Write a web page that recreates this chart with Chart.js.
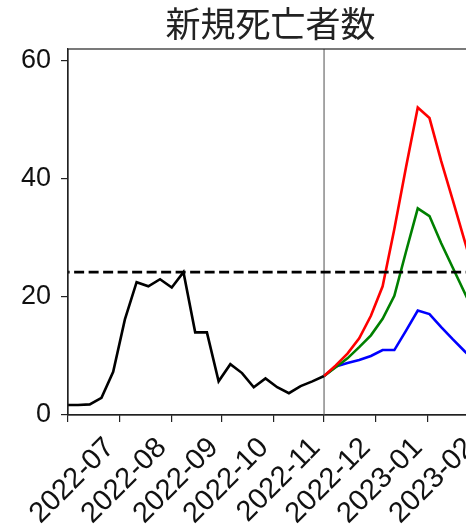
<!DOCTYPE html>
<html>
<head>
<meta charset="utf-8">
<script src="https://cdn.jsdelivr.net/npm/chart.js@4.4.0/dist/chart.umd.min.js"></script>
<style>
  html, body { margin: 0; padding: 0; background: #fff; overflow: hidden; }
  #wrap { width: 480px; height: 529px; }
</style>
</head>
<body>
<div id="wrap"><canvas id="myChart"></canvas></div>
<script>
// month ticks on the x axis
const monthTicks = ['2022-07-01', '2022-08-01', '2022-09-01', '2022-10-01', '2022-11-01', '2022-12-01', '2023-01-01', '2023-02-01'];
const monthLabels = ['2022-07', '2022-08', '2022-09', '2022-10', '2022-11', '2022-12', '2023-01', '2023-02'];

// observed weekly deaths (black)
const obsDates = ['2022-06-30', '2022-07-07', '2022-07-14', '2022-07-21', '2022-07-28', '2022-08-04', '2022-08-11', '2022-08-18',
  '2022-08-25', '2022-09-01', '2022-09-08', '2022-09-15', '2022-09-22', '2022-09-29', '2022-10-06', '2022-10-13',
  '2022-10-20', '2022-10-27', '2022-11-03', '2022-11-10', '2022-11-17', '2022-11-24', '2022-12-01'];
const obsDeaths = [1.7, 1.7, 1.8, 2.9, 7.3, 16.2, 22.5, 21.8, 23.0, 21.6, 24.2, 14.0, 14.0, 5.7, 8.6, 7.1, 4.7, 6.2, 4.7, 3.7, 4.9, 5.7, 6.6];

// projections
const projDates = ['2022-12-01', '2022-12-08', '2022-12-15', '2022-12-22', '2022-12-29', '2023-01-05', '2023-01-12',
  '2023-01-19', '2023-01-26', '2023-02-02', '2023-02-09', '2023-02-16', '2023-02-23', '2023-03-02'];
const projHigh = [6.6, 8.4, 10.4, 13.0, 16.8, 21.8, 31.5, 42.0, 52.1, 50.3, 43.0, 36.3, 29.5, 22.8];
const projMid = [6.6, 8.1, 9.6, 11.5, 13.5, 16.3, 20.2, 27.7, 35.0, 33.7, 29.1, 24.9, 20.7, 16.5];
const projLow = [6.6, 8.2, 8.8, 9.3, 10.0, 11.0, 11.0, 14.3, 17.7, 17.1, 14.9, 12.8, 10.8, 8.9];

const peakLevel = 24.2;
const forecastStart = '2022-12-01';
const xRange = ['2022-07-01', '2023-02-28'];
const yRange = [0, 62];
const yTicks = [0, 20, 40, 60];

const origin = Date.UTC(2022, 6, 1);
function dayOf(s) {
  const [y, m, d] = s.split('-').map(Number);
  return (Date.UTC(y, m - 1, d) - origin) / 86400000;
}
function pts(dates, vals) {
  return dates.map((d, i) => ({ x: dayOf(d), y: vals[i] }));
}

const xMin = dayOf(xRange[0]);
const xMax = dayOf(xRange[1]);
const fs = dayOf(forecastStart);

const line = (data, color, order) => ({
  data, borderColor: color, borderWidth: 2.6, pointRadius: 0, tension: 0, clip: 0, order
});

const frame = {
  id: 'frame',
  afterDatasetsDraw(chart) {
    const a = chart.chartArea, c = chart.ctx;
    c.save();
    c.strokeStyle = '#222';
    c.lineWidth = 1.2;
    c.strokeRect(a.left, a.top, a.right - a.left, a.bottom - a.top);
    c.restore();
  }
};

const sans = "'Liberation Sans', Arial, sans-serif";

new Chart(document.getElementById('myChart'), {
  type: 'line',
  data: {
    datasets: [
      line(pts(projDates, projHigh), '#ff0000', 1),
      line(pts(projDates, projMid), '#008000', 2),
      line(pts(projDates, projLow), '#0000ff', 3),
      line(pts(obsDates, obsDeaths), '#000000', 4),
      Object.assign(line([{ x: xMin - 5, y: peakLevel }, { x: xMax + 5, y: peakLevel }], '#000000', 0), { borderDash: [10, 4.5], borderWidth: 2.7 }),
      Object.assign(line([{ x: fs, y: yRange[0] }, { x: fs, y: yRange[1] }], '#808080', 5), { borderWidth: 1.4 })
    ]
  },
  options: {
    responsive: true,
    maintainAspectRatio: false,
    animation: false,
    devicePixelRatio: 1,
    layout: { padding: { left: 0, right: 7, top: 0, bottom: 0 } },
    plugins: {
      legend: { display: false },
      tooltip: { enabled: false },
      title: {
        display: true,
        fullSize: false,
        text: '新規死亡者数',
        color: '#222',
        font: { family: "'Noto Sans CJK JP', sans-serif", size: 35, weight: 'normal', lineHeight: 1.2 },
        padding: { top: 3, bottom: 4 }
      }
    },
    scales: {
      x: {
        type: 'linear',
        min: xMin,
        max: xMax,
        afterBuildTicks(axis) { axis.ticks = monthTicks.map(d => ({ value: dayOf(d) })); },
        afterFit(axis) { axis.height = 114; axis.paddingLeft = 0; axis.paddingRight = 0; },
        ticks: {
          autoSkip: false,
          minRotation: 45,
          maxRotation: 45,
          labelOffset: 42,
          padding: 9,
          color: '#111',
          font: { family: sans, size: 29 },
          callback(v) {
            const i = monthTicks.findIndex(d => dayOf(d) === v);
            return i >= 0 ? monthLabels[i] : '';
          }
        },
        grid: { display: true, drawOnChartArea: false, drawTicks: true, tickLength: 7, color: '#222', lineWidth: 1.2 },
        border: { display: true, color: '#222', width: 1.2 }
      },
      y: {
        min: yRange[0],
        max: yRange[1],
        afterBuildTicks(axis) { axis.ticks = yTicks.map(v => ({ value: v })); },
        afterFit(axis) { axis.width = 68; },
        ticks: { padding: 10, color: '#111', font: { family: sans, size: 27 } },
        grid: { display: true, drawOnChartArea: false, drawTicks: true, tickLength: 7, color: '#222', lineWidth: 1.2 },
        border: { display: true, color: '#222', width: 1.2 }
      }
    }
  },
  plugins: [frame]
});
</script>
</body>
</html>
